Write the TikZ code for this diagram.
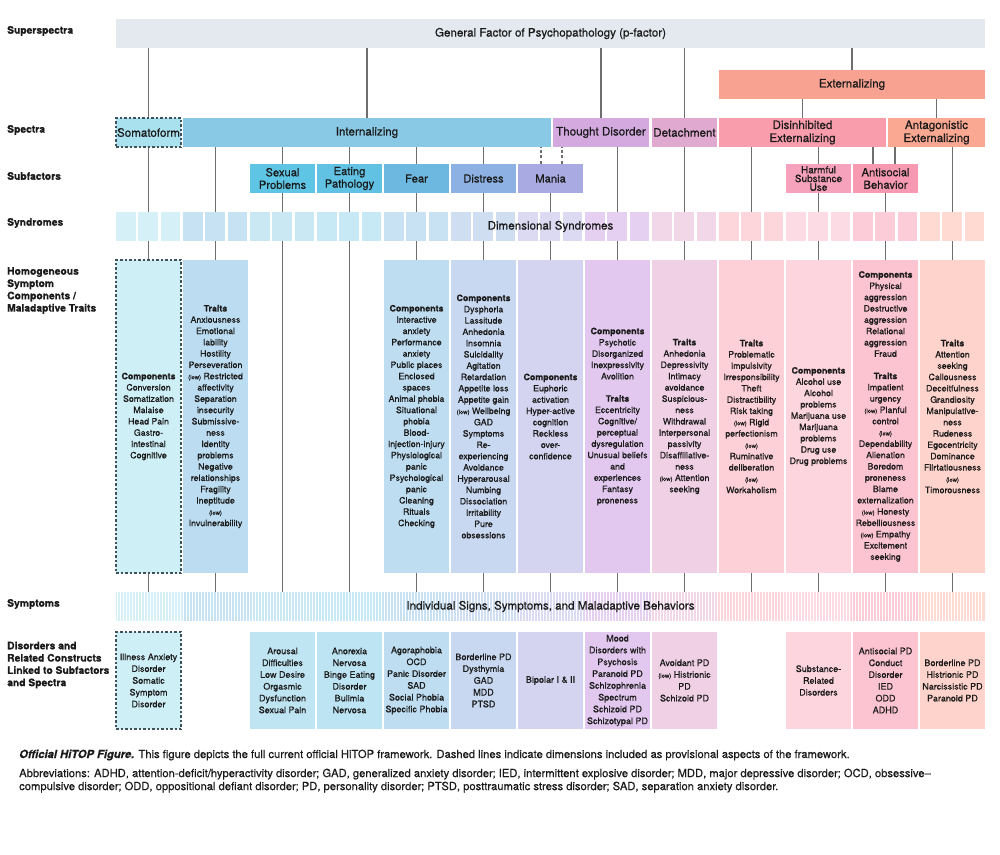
\documentclass[tikz,border=0pt]{standalone}
\usepackage{fontspec}
\setmainfont{TeX Gyre Heros}[RawFeature={embolden=0.6}]
\usetikzlibrary{positioning}

\definecolor{txt}{HTML}{1A1A1A}
\definecolor{linegray}{HTML}{6E6E6E}
\definecolor{dashgray}{HTML}{3E525C}
\definecolor{pfac}{HTML}{E4E9EF}
\definecolor{extc}{HTML}{F8A392}
\definecolor{somac}{HTML}{A9E1EF}
\definecolor{intc}{HTML}{89C9E5}
\definecolor{thouc}{HTML}{D3A9E0}
\definecolor{detc}{HTML}{E0A9CF}
\definecolor{disc}{HTML}{F99DAC}
\definecolor{antc}{HTML}{FAA892}
\definecolor{sexc}{HTML}{5EC5E5}
\definecolor{eatc}{HTML}{61C2E4}
\definecolor{fearc}{HTML}{6DB8E1}
\definecolor{distc}{HTML}{8CB1E2}
\definecolor{maniac}{HTML}{A9AAE2}
\definecolor{harmc}{HTML}{F6A2BC}
\definecolor{antic}{HTML}{F799B1}
% light tones, one per column
\definecolor{k0}{HTML}{CEEFF6}
\definecolor{k1}{HTML}{BCDDF1}
\definecolor{k2}{HTML}{BFE4F2}
\definecolor{k3}{HTML}{BDE4F3}
\definecolor{k4}{HTML}{BEDDF1}
\definecolor{k5}{HTML}{C8D8F0}
\definecolor{k6}{HTML}{D5D4F0}
\definecolor{k7}{HTML}{E2C8EE}
\definecolor{k8}{HTML}{F0D0E5}
\definecolor{k9}{HTML}{FDCFD6}
\definecolor{k10}{HTML}{FDD5DF}
\definecolor{k11}{HTML}{FCC3D1}
\definecolor{k12}{HTML}{FED3CB}

\newcommand{\lowtag}{{\fontsize{6}{7}\selectfont(low)}}

\tikzset{
  conn/.style={draw=linegray, line width=1.1pt},
  prov/.style={conn, dash pattern=on 3pt off 2.5pt},
  provbox/.style={draw=dashgray, line width=1.3pt, dash pattern=on 2.5pt off 2pt},
  labbar/.style={inner sep=0pt, text=txt, align=center, font=\fontsize{11.6}{13}\selectfont},
  spec/.style={labbar, minimum height=29pt},
  subf/.style={labbar, minimum width=65pt, minimum height=29pt, font=\fontsize{11.2}{12.5}\selectfont},
  synbox/.style={minimum width=19.5pt, minimum height=29pt, inner sep=0pt},
  colbox/.style={minimum width=65pt, minimum height=313pt, inner sep=0pt, align=center, text=txt, font=\fontsize{8.8}{11.3}\selectfont},
  disbox/.style={colbox, minimum height=97pt, font=\fontsize{9}{11.8}\selectfont},
  rowlab/.style={anchor=west, inner sep=0pt, align=left, text=txt, font=\bfseries\fontsize{10.3}{12.3}\selectfont},
  capt/.style={inner sep=0pt, text=txt, align=left, font=\fontsize{11.2}{13}\selectfont},
}

\begin{document}
\begin{tikzpicture}[x=1pt, y=-1pt]
    \useasboundingbox (0,0) rectangle (1000,854);
    \fill[white] (0,0) rectangle (1000,854);

    % row labels
    \node[rowlab] (lsup) at (7,31) {Superspectra};
    \node[rowlab] (lspec) at (7,130) {Spectra};
    \node[rowlab] (lsub) at (7,176) {Subfactors};
    \node[rowlab] (lsyn) at (7,223) {Syndromes};
    \node[rowlab] (lhom) at (7,290.5) {Homogeneous\\Symptom\\Components /\\Maladaptive Traits};
    \node[rowlab] (lsym) at (7,604) {Symptoms};
    \node[rowlab] (ldis) at (7,665) {Disorders and\\Related Constructs\\Linked to Subfactors\\and Spectra};

    % superspectra and spectra
    \node[spec, fill=pfac, minimum width=869pt] (pf) at (550.5,33.5) {General Factor of Psychopathology (p-factor)};
    \node[spec, fill=extc, minimum width=266pt] (ext) at (852,84.5) {Externalizing};
    \node[spec, fill=somac, minimum width=65pt, provbox] (soma) at (148.5,132.5) {Somatoform};
    \node[spec, fill=intc, minimum width=368pt] (int) at (367,132.5) {Internalizing};
    \node[spec, fill=thouc, minimum width=96pt] (thou) at (601,132.5) {Thought Disorder};
    \node[spec, fill=detc, minimum width=65pt] (det) at (684.5,132.5) {Detachment};
    \node[spec, fill=disc, minimum width=167pt] (dis) at (802.5,132.5) {Disinhibited\\Externalizing};
    \node[spec, fill=antc, minimum width=97pt] (ant) at (936.5,132.5) {Antagonistic\\Externalizing};

    % subfactors
    \node[subf, fill=sexc] (sex) at (282.5,178.5) {Sexual\\Problems};
    \node[subf, fill=eatc] (eat) at (349.5,178.5) {Eating\\Pathology};
    \node[subf, fill=fearc] (fear) at (416.5,178.5) {Fear};
    \node[subf, fill=distc] (dist) at (483.5,178.5) {Distress};
    \node[subf, fill=maniac] (mania) at (550.5,178.5) {Mania};
    \node[subf, fill=harmc, font=\fontsize{10}{8.7}\selectfont] (harm) at (818.5,178.5) {Harmful\\Substance\\Use};
    \node[subf, fill=antic] (anti) at (885.5,178.5) {Antisocial\\Behavior};

    % syndromes, three squares per column
    \foreach \c [count=\i from 0] in {k0,k1,k2,k3,k4,k5,k6,k7,k8,k9,k10,k11,k12}
      \foreach \k in {0,1,2} {
        \pgfmathtruncatemacro{\j}{3*\i+\k}
        \node[synbox, fill=\c!85!white] (syn\j) at (125.75+22.333*\j,226.5) {};
      }
    \node[labbar] (syntxt) at (550.5,226.5) {Dimensional Syndromes};

    % components / traits
    \node[colbox, fill=k0, provbox] (csoma) at (148.5,416.5) {\textbf{Components}\\Conversion\\Somatization\\Malaise\\Head Pain\\Gastro-\\intestinal\\Cognitive};
    \node[colbox, fill=k1] (cint) at (215.5,416.5) {\textbf{Traits}\\Anxiousness\\Emotional\\lability\\Hostility\\Perseveration\\\lowtag{} Restricted\\affectivity\\Separation\\insecurity\\Submissive-\\ness\\Identity\\problems\\Negative\\relationships\\Fragility\\Ineptitude\\\lowtag\\Invulnerability};
    \node[colbox, fill=k4] (cfear) at (416.5,416.5) {\textbf{Components}\\Interactive\\anxiety\\Performance\\anxiety\\Public places\\Enclosed\\spaces\\Animal phobia\\Situational\\phobia\\Blood-\\injection-injury\\Physiological\\panic\\Psychological\\panic\\Cleaning\\Rituals\\Checking};
    \node[colbox, fill=k5] (cdist) at (483.5,416.5) {\textbf{Components}\\Dysphoria\\Lassitude\\Anhedonia\\Insomnia\\Suicidality\\Agitation\\Retardation\\Appetite loss\\Appetite gain\\\lowtag{} Wellbeing\\GAD\\Symptoms\\Re-\\experiencing\\Avoidance\\Hyperarousal\\Numbing\\Dissociation\\Irritability\\Pure\\obsessions};
    \node[colbox, fill=k6] (cmania) at (550.5,416.5) {\textbf{Components}\\Euphoric\\activation\\Hyper-active\\cognition\\Reckless\\over-\\confidence};
    \node[colbox, fill=k7] (cthou) at (617.5,416.5) {\textbf{Components}\\Psychotic\\Disorganized\\Inexpressivity\\Avolition\\[11pt]\textbf{Traits}\\Eccentricity\\Cognitive/\\perceptual\\dysregulation\\Unusual beliefs\\and\\experiences\\Fantasy\\proneness};
    \node[colbox, fill=k8] (cdet) at (684.5,416.5) {\textbf{Traits}\\Anhedonia\\Depressivity\\Intimacy\\avoidance\\Suspicious-\\ness\\Withdrawal\\Interpersonal\\passivity\\Disaffiliative-\\ness\\\lowtag{} Attention\\seeking};
    \node[colbox, fill=k9] (cdis) at (751.5,416.5) {\textbf{Traits}\\Problematic\\impulsivity\\Irresponsibility\\Theft\\Distractibility\\Risk taking\\\lowtag{} Rigid\\perfectionism\\\lowtag\\Ruminative\\deliberation\\\lowtag\\Workaholism};
    \node[colbox, fill=k10] (charm) at (818.5,416.5) {\textbf{Components}\\Alcohol use\\Alcohol\\problems\\Marijuana use\\Marijuana\\problems\\Drug use\\Drug problems};
    \node[colbox, fill=k11] (canti) at (885.5,416.5) {\textbf{Components}\\Physical\\aggression\\Destructive\\aggression\\Relational\\aggression\\Fraud\\[11pt]\textbf{Traits}\\Impatient\\urgency\\\lowtag{} Planful\\control\\\lowtag\\Dependability\\Alienation\\Boredom\\proneness\\Blame\\externalization\\\lowtag{} Honesty\\Rebelliousness\\\lowtag{} Empathy\\Excitement\\seeking};
    \node[colbox, fill=k12] (cant) at (952.5,416.5) {\textbf{Traits}\\Attention\\seeking\\Callousness\\Deceitfulness\\Grandiosity\\Manipulative-\\ness\\Rudeness\\Egocentricity\\Dominance\\Flirtatiousness\\\lowtag\\Timorousness};

    % symptoms bar with fine stripes
    \node[minimum width=869pt, minimum height=29pt, inner sep=0pt] (sym) at (550.5,606.5) {};
    \foreach \c [count=\i from 0] in {k0,k1,k2,k3,k4,k5,k6,k7,k8,k9,k10,k11,k12}
      \fill[\c!85!white] (116+66.846*\i,592) rectangle ++(66.846,29);
    \foreach \s in {117.5,120.5,...,984}
      \draw[white, line width=1.2pt] (\s,592) -- (\s,621);
    \node[labbar] (symtxt) at (sym) {Individual Signs, Symptoms, and Maladaptive Behaviors};

    % disorders
    \node[disbox, fill=k0, provbox] (dsoma) at (148.5,680.5) {Illness Anxiety\\Disorder\\Somatic\\Symptom\\Disorder};
    \node[disbox, fill=k2] (dsex) at (282.5,680.5) {Arousal\\Difficulties\\Low Desire\\Orgasmic\\Dysfunction\\Sexual Pain};
    \node[disbox, fill=k3] (deat) at (349.5,680.5) {Anorexia\\Nervosa\\Binge Eating\\Disorder\\Bulimia\\Nervosa};
    \node[disbox, fill=k4] (dfear) at (416.5,680.5) {Agoraphobia\\OCD\\Panic Disorder\\SAD\\Social Phobia\\Specific Phobia};
    \node[disbox, fill=k5] (ddist) at (483.5,680.5) {Borderline PD\\Dysthymia\\GAD\\MDD\\PTSD};
    \node[disbox, fill=k6] (dmania) at (550.5,680.5) {Bipolar I \& II};
    \node[disbox, fill=k7] (dthou) at (617.5,680.5) {Mood\\Disorders with\\Psychosis\\Paranoid PD\\Schizophrenia\\Spectrum\\Schizoid PD\\Schizotypal PD};
    \node[disbox, fill=k8] (ddet) at (684.5,680.5) {Avoidant PD\\\lowtag{} Histrionic\\PD\\Schizoid PD};
    \node[disbox, fill=k10] (dharm) at (818.5,680.5) {Substance-\\Related\\Disorders};
    \node[disbox, fill=k11] (danti) at (885.5,680.5) {Antisocial PD\\Conduct\\Disorder\\IED\\ODD\\ADHD};
    \node[disbox, fill=k12] (dant) at (952.5,680.5) {Borderline PD\\Histrionic PD\\Narcissistic PD\\Paranoid PD};

    % connectors
    \foreach \n in {soma,int,thou,det,ext}
      \draw[conn] (pf.south -| \n) -- (\n.north);
    \foreach \n in {dis,ant}
      \draw[conn] (ext.south -| \n) -- (\n.north);
    \foreach \n in {sex,eat,fear,dist}
      \draw[conn] (int.south -| \n) -- (\n.north);
    \draw[prov] ([xshift=-9.5pt]mania.north) -- ([xshift=-9.5pt]mania.north |- int.south);
    \draw[prov] ([xshift=11.5pt]mania.north) -- ([xshift=11.5pt]mania.north |- thou.south);
    \draw[conn] (dis.south -| harm) -- (harm.north);
    \draw[conn] ([xshift=-12.5pt]anti.north |- dis.south) -- ([xshift=-12.5pt]anti.north);
    \draw[conn] ([xshift=9.5pt]anti.north |- ant.south) -- ([xshift=9.5pt]anti.north);
    \foreach \n/\m in {soma/1,int/4,thou/22,det/25,dis/28,ant/37}
      \draw[conn] (\n.south -| syn\m) -- (syn\m.north);
    \foreach \n/\m in {sex/7,eat/10,fear/13,dist/16,mania/19,harm/31,anti/34}
      \draw[conn] (\n.south) -- (\n.south |- syn\m.north);
    \foreach \m/\n in {1/csoma,4/cint,13/cfear,16/cdist,19/cmania,22/cthou,25/cdet,28/cdis,31/charm,34/canti,37/cant}
      \draw[conn] (\n.north |- syn\m.south) -- (\n.north);
    \foreach \n in {csoma,cint,cfear,cdist,cmania,cthou,cdet,cdis,charm,canti,cant}
      \draw[conn] (\n.south) -- (\n.south |- sym.north);
    \foreach \m in {7,10}
      \draw[conn] (syn\m.south) -- (syn\m.south |- sym.north);

    % caption
    \node[capt, anchor=base west] (cap1) at (19,758) {\textbf{\textit{Official HiTOP Figure.}} This figure depicts the full current official HiTOP framework. Dashed lines indicate dimensions included as provisional aspects of the framework.};
    \node[capt, anchor=north west] (cap2) at (19,768.5) {Abbreviations: ADHD, attention-deficit/hyperactivity disorder; GAD, generalized anxiety disorder; IED, intermittent explosive disorder; MDD, major depressive disorder; OCD, obsessive--\\compulsive disorder; ODD, oppositional defiant disorder; PD, personality disorder; PTSD, posttraumatic stress disorder; SAD, separation anxiety disorder.};
\end{tikzpicture}
\end{document}
